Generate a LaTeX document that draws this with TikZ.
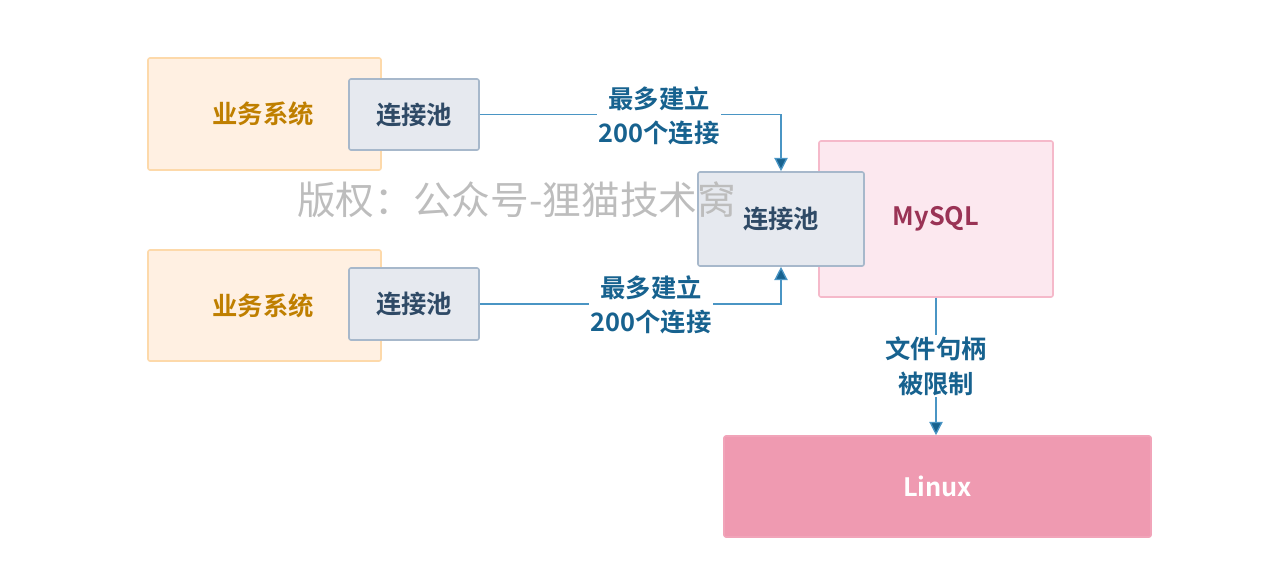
\documentclass[tikz,border=0pt]{standalone}
\usepackage{fontspec}
\setmainfont{Noto Sans CJK SC}
\newfontfamily\cjkb{Noto Sans CJK SC}[BoldFont={* Bold}]
\usetikzlibrary{arrows.meta}
\definecolor{bizfill}{HTML}{FFF0E2}
\definecolor{bizdraw}{HTML}{FDD9AA}
\definecolor{biztext}{HTML}{BF7F00}
\definecolor{poolfill}{HTML}{E6E9EF}
\definecolor{pooldraw}{HTML}{A7B8CB}
\definecolor{pooltext}{HTML}{2F4A66}
\definecolor{myfill}{HTML}{FCE8EF}
\definecolor{mydraw}{HTML}{F5B9CA}
\definecolor{mytext}{HTML}{9A3355}
\definecolor{linfill}{HTML}{EF9AB1}
\definecolor{lintext}{HTML}{FFFFFF}
\definecolor{linecol}{HTML}{4A95C4}
\definecolor{labtext}{HTML}{17628F}
\definecolor{wm}{HTML}{BDBDBD}
\tikzset{
  box/.style={rectangle, rounded corners=1.5pt, line width=1.2pt, inner sep=0pt},
  biz/.style={box, fill=bizfill, draw=bizdraw, text=biztext, font=\cjkb\bfseries\fontsize{19}{24}\selectfont},
  pool/.style={box, fill=poolfill, draw=pooldraw, text=pooltext, font=\cjkb\bfseries\fontsize{19}{24}\selectfont},
  mysql/.style={box, fill=myfill, draw=mydraw, text=mytext, font=\cjkb\bfseries\fontsize{19}{24}\selectfont},
  linux/.style={box, fill=linfill, draw=linfill!90!white, text=lintext, font=\cjkb\bfseries\fontsize{19}{24}\selectfont},
  conn/.style={draw=linecol, line width=1pt, -{Triangle[width=10pt,length=10pt,fill=labtext]}},
  lab/.style={fill=white, text=labtext, align=center, inner sep=1pt, font=\cjkb\bfseries\fontsize{19}{26}\selectfont},
}
\begin{document}
\begin{tikzpicture}[x=0.75pt, y=-0.75pt]
\useasboundingbox (0,0) rectangle (1282,586);
% business systems
\node[biz, minimum width=233*0.75pt, minimum height=112*0.75pt, text width=200*0.75pt, align=left] (biz1) at (264.5,114) {\hspace*{36pt}业务系统};
\node[biz, minimum width=233*0.75pt, minimum height=111*0.75pt, text width=200*0.75pt, align=left] (biz2) at (264.5,305.5) {\hspace*{36pt}业务系统};
\node[pool, minimum width=130*0.75pt, minimum height=71*0.75pt] (p1) at (414,114.5) {连接池};
\node[pool, minimum width=130*0.75pt, minimum height=72*0.75pt] (p2) at (414,304) {连接池};
% mysql
\node[mysql, minimum width=234*0.75pt, minimum height=156*0.75pt] (my) at (936,219) {};
\node[text=mytext, font=\cjkb\bfseries\fontsize{19}{24}\selectfont] (mylab) at (936,219) {MySQL};
\node[pool, minimum width=166*0.75pt, minimum height=94*0.75pt] (cp) at (781,219) {连接池};
\node[linux, minimum width=427*0.75pt, minimum height=101*0.75pt] (lin) at (937.5,486.5) {Linux};
% connectors
\coordinate (c1) at (781,114.5);
\coordinate (c2) at (781,304);
\draw[conn] (p1.east) -- (c1) -- (cp.north);
\draw[conn] (p2.east) -- (c2) -- (cp.south);
\draw[conn] (my.south -| 936,0) -- (lin.north -| 936,0);
\node[lab] (l1) at (659,116) {最多建立\\200个连接};
\node[lab] (l2) at (651,305) {最多建立\\200个连接};
\node[lab] (l3) at (936,366) {文件句柄\\被限制};
% watermark
\node[text=wm, font=\fontsize{29}{33}\selectfont, anchor=west, inner sep=0pt] (wmk) at (297,200) {版权：公众号-狸猫技术窝};
\end{tikzpicture}
\end{document}
